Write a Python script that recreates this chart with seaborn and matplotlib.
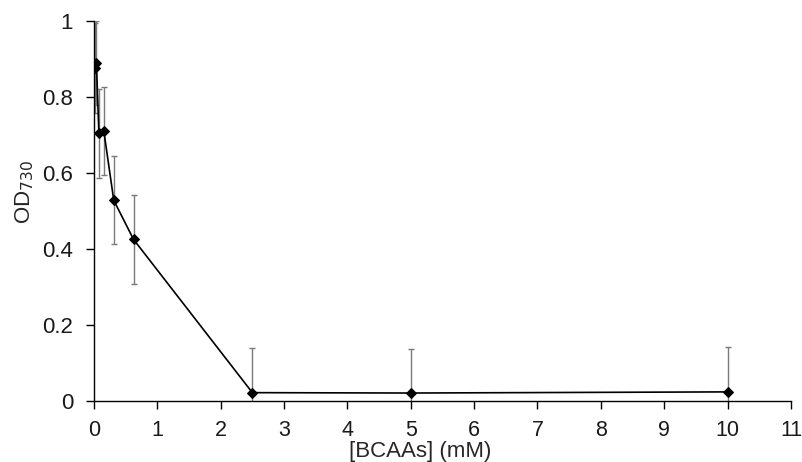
import matplotlib
matplotlib.use("Agg")
import matplotlib.pyplot as plt
import seaborn as sns
import pandas as pd

conc = [0.0195, 0.039, 0.078, 0.156, 0.3125, 0.625, 2.5, 5, 10]
od730 = [0.875, 0.889, 0.704, 0.710, 0.528, 0.425, 0.022, 0.021, 0.024]
err = [0.118, 0.110, 0.117, 0.116, 0.116, 0.116, 0.117, 0.117, 0.117]
xticks = list(range(0, 12))
yticks = [0, 0.2, 0.4, 0.6, 0.8, 1]
ytick_labels = ["0", "0.2", "0.4", "0.6", "0.8", "1"]

sns.set_style("ticks")
plt.rcParams['font.family'] = ['Liberation Sans', 'DejaVu Sans']

df = pd.DataFrame({"conc": conc, "od": od730, "err": err})

fig = plt.figure(figsize=(8.03, 4.62), dpi=100)
ax = fig.add_axes([0.117, 0.132, 0.868, 0.823])

ax.errorbar(df["conc"], df["od"], yerr=df["err"], fmt="none", ecolor="#7a7a7a",
            elinewidth=1.0, capsize=2.5, capthick=1.0, zorder=1, clip_on=True)
sns.lineplot(data=df, x="conc", y="od", ax=ax, color="black", marker="D",
             markersize=5.5, markeredgecolor="black", linewidth=1.2, zorder=3)

ax.set_xlim(0, 11)
ax.set_ylim(0, 1)
ax.set_xticks(xticks)
ax.set_yticks(yticks)
ax.set_yticklabels(ytick_labels)
ax.tick_params(axis="both", labelsize=16, length=6, width=1.0, color="black", labelcolor="#1a1a1a")
ax.tick_params(axis="x", pad=7.5, labelsize=15.5)
ax.tick_params(axis="y", pad=9)
ax.set_xlabel("[BCAAs] (mM)", fontsize=16)
ax.set_ylabel("OD$_{730}$", fontsize=16)
ax.xaxis.set_label_coords(0.468, -0.104)
ax.yaxis.set_label_coords(-0.083, 0.55)
for s in ["top", "right"]:
    ax.spines[s].set_visible(False)
for s in ["left", "bottom"]:
    ax.spines[s].set_color("black")
    ax.spines[s].set_linewidth(1.0)

fig.savefig("out.png", dpi=100)
